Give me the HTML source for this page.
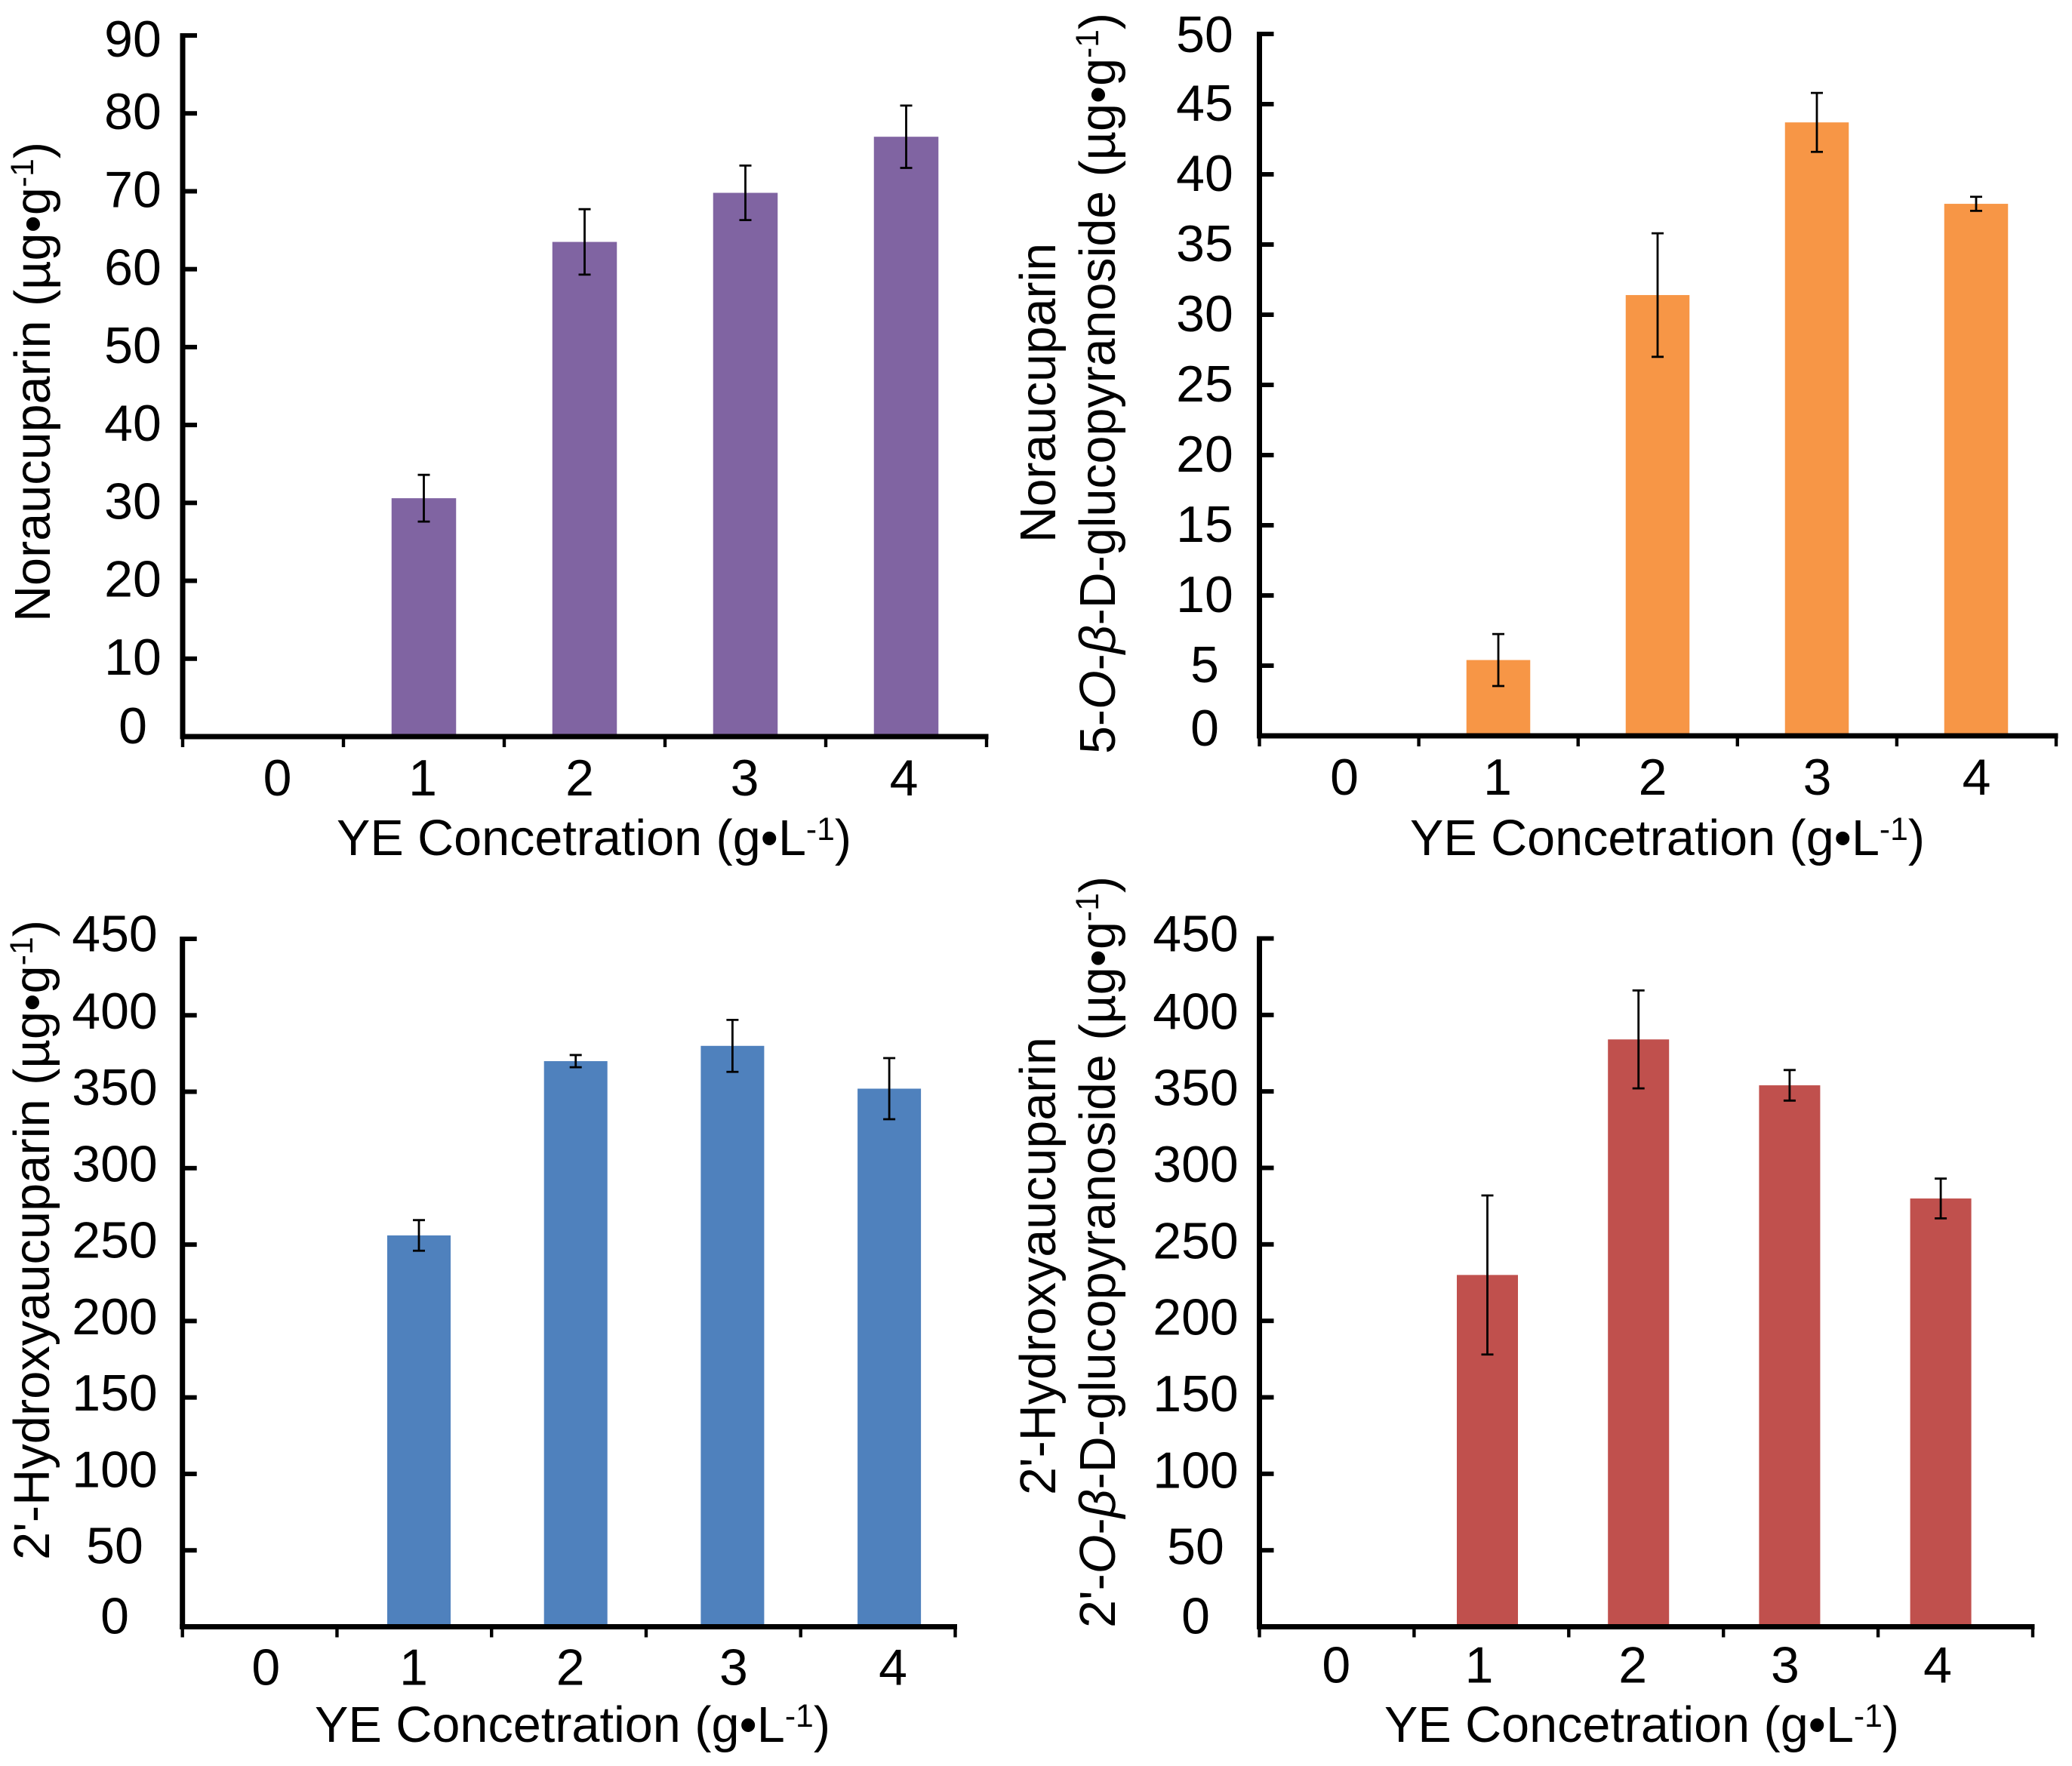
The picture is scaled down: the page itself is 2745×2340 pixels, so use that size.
<!DOCTYPE html>
<html lang="en">
<head>
<meta charset="utf-8">
<title>Coumarin content versus YE concentration</title>
<style>
html,body{margin:0;padding:0;background:#fff;width:2745px;height:2340px;overflow:hidden}
svg{display:block}
text{font-family:"Liberation Sans",Arial,sans-serif;fill:#000}
</style>
</head>
<body>
<svg id="figure" xmlns="http://www.w3.org/2000/svg" width="2745" height="2340" viewBox="0 0 2745 2340">
<rect width="2745" height="2340" fill="#fff"/>

<text x="446" y="1133" font-size="67" textLength="682" lengthAdjust="spacingAndGlyphs">YE Concetration (g•L<tspan font-size="43" dy="-20">-1</tspan><tspan dy="20">)</tspan></text>
<text x="1868" y="1133" font-size="67" textLength="682" lengthAdjust="spacingAndGlyphs">YE Concetration (g•L<tspan font-size="43" dy="-20">-1</tspan><tspan dy="20">)</tspan></text>
<text x="417" y="2308" font-size="67" textLength="683" lengthAdjust="spacingAndGlyphs">YE Concetration (g•L<tspan font-size="43" dy="-20">-1</tspan><tspan dy="20">)</tspan></text>
<text x="1834" y="2308" font-size="67" textLength="682" lengthAdjust="spacingAndGlyphs">YE Concetration (g•L<tspan font-size="43" dy="-20">-1</tspan><tspan dy="20">)</tspan></text>

<text transform="translate(66,824) rotate(-90)" font-size="67" textLength="636" lengthAdjust="spacingAndGlyphs">Noraucuparin (µg•g<tspan font-size="43" dy="-22">-1</tspan><tspan dy="22">)</tspan></text>

<text transform="translate(1398,719) rotate(-90)" font-size="67" textLength="397" lengthAdjust="spacingAndGlyphs">Noraucuparin</text>
<text transform="translate(1477,999) rotate(-90)" font-size="67" textLength="982" lengthAdjust="spacingAndGlyphs">5-<tspan font-style="italic">O</tspan>-<tspan font-style="italic">β</tspan>-D-glucopyranoside (µg•g<tspan font-size="43" dy="-22">-1</tspan><tspan dy="22">)</tspan></text>

<text transform="translate(65,2067) rotate(-90)" font-size="67" textLength="848" lengthAdjust="spacingAndGlyphs">2'-Hydroxyaucuparin (µg•g<tspan font-size="43" dy="-22">-1</tspan><tspan dy="22">)</tspan></text>

<text transform="translate(1398,1981) rotate(-90)" font-size="67" textLength="607" lengthAdjust="spacingAndGlyphs">2'-Hydroxyaucuparin</text>
<text transform="translate(1477,2157) rotate(-90)" font-size="67" textLength="996" lengthAdjust="spacingAndGlyphs">2'-<tspan font-style="italic">O</tspan>-<tspan font-style="italic">β</tspan>-D-glucopyranoside (µg•g<tspan font-size="43" dy="-22">-1</tspan><tspan dy="22">)</tspan></text>
</svg>

<script>
var categories = ['0', '1', '2', '3', '4'];

var panelAValues = [0, 30.6, 63.5, 69.8, 77];
var panelAErrors = [0, 3, 4.2, 3.5, 4];
var panelATicks = [0, 10, 20, 30, 40, 50, 60, 70, 80, 90];

var panelBValues = [0, 5.4, 31.4, 43.7, 37.9];
var panelBErrors = [0, 1.85, 4.4, 2.1, 0.5];
var panelBTicks = [0, 5, 10, 15, 20, 25, 30, 35, 40, 45, 50];

var panelCValues = [0, 256, 370, 380, 352];
var panelCErrors = [0, 10, 4, 17, 20];
var panelCTicks = [0, 50, 100, 150, 200, 250, 300, 350, 400, 450];

var panelDValues = [0, 230, 384, 354, 280];
var panelDErrors = [0, 52, 32, 10, 13];
var panelDTicks = [0, 50, 100, 150, 200, 250, 300, 350, 400, 450];

var svgNS = 'http://www.w3.org/2000/svg';
var figure = document.getElementById('figure');

function make(tag, attrs) {
  var node = document.createElementNS(svgNS, tag);
  for (var key in attrs) { node.setAttribute(key, attrs[key]); }
  figure.appendChild(node);
  return node;
}

function drawPanel(id, color, values, errors, ticks, g) {
  var maxTick = ticks[ticks.length - 1];
  function yScale(v) { return g.base - (v / maxTick) * (g.base - g.top); }
  function tickX(i) { return g.axisX + (i / categories.length) * (g.axisEnd - g.axisX); }
  function barCenter(i) { return g.bar1 + (i - 1) * g.barStep; }

  values.forEach(function (value, i) {
    if (value <= 0) { return; }
    var bar = make('rect', { x: barCenter(i) - g.barW / 2, y: yScale(value), width: g.barW, height: g.base - yScale(value), fill: color });
    
    
  });

  values.forEach(function (value, i) {
    if (errors[i] <= 0) { return; }
    var cx = barCenter(i);
    var hi = yScale(value + errors[i]);
    var lo = yScale(value - errors[i]);
    var err = make('path', { d: 'M' + cx + ' ' + hi + 'V' + lo + 'M' + (cx - 8) + ' ' + hi + 'H' + (cx + 8) + 'M' + (cx - 8) + ' ' + lo + 'H' + (cx + 8), stroke: '#000', 'stroke-width': 2.8, fill: 'none' });
    
    
  });

  var yAxis = make('rect', { x: g.axisX - 3.5, y: g.top - 3, width: 7, height: g.base - g.top + 6, fill: '#000' });
  
  

  var xAxis = make('rect', { x: g.axisX - 3.5, y: g.base - 3.5, width: g.axisEnd - g.axisX + 6, height: 7, fill: '#000' });
  
  

  ticks.forEach(function (tick, i) {
    var yTick = make('rect', { x: g.axisX, y: yScale(tick) - 3, width: 19, height: 6, fill: '#000' });
    
    

    var nudge = g.labelNudge;
    if (i === 0) { nudge = g.zeroNudge; }
    if (i === ticks.length - 1) { nudge = g.topNudge; }
    var yLabel = make('text', { x: g.labelCenter, y: yScale(tick) + nudge + 24, 'font-size': 68, 'text-anchor': 'middle' });
    yLabel.textContent = String(tick);
    
    
  });

  for (var t = 0; t <= categories.length; t++) {
    var xTick = make('rect', { x: tickX(t) - 2.2, y: g.base, width: 4.4, height: 14, fill: '#000' });
    
    
  }

  categories.forEach(function (label, i) {
    var xLabel = make('text', { x: barCenter(i) + g.xLabelOffsets[i], y: g.base + g.xLabelDrop, 'font-size': 68, 'text-anchor': 'middle' });
    xLabel.textContent = label;
    
    
  });
}

drawPanel('panel-a', '#8064A2', panelAValues, panelAErrors, panelATicks,
  { axisX: 242, axisEnd: 1307, top: 47, base: 976, bar1: 561.5, barStep: 213, barW: 85.5, labelCenter: 176, labelNudge: -3, topNudge: 4, zeroNudge: -15, xLabelDrop: 78, xLabelOffsets: [19, -1.5, -6.5, -1, -3] });
drawPanel('panel-b', '#F79646', panelBValues, panelBErrors, panelBTicks,
  { axisX: 1668.5, axisEnd: 2724, top: 45, base: 975, bar1: 1985, barStep: 211, barW: 84.5, labelCenter: 1596, labelNudge: -2, topNudge: 0, zeroNudge: -11, xLabelDrop: 78, xLabelOffsets: [7, -1, -6.5, 0.5, 0.5] });
drawPanel('panel-c', '#4F81BD', panelCValues, panelCErrors, panelCTicks,
  { axisX: 241.7, axisEnd: 1265.5, top: 1244, base: 2155.5, bar1: 555, barStep: 207.7, barW: 84, labelCenter: 152, labelNudge: -6.5, topNudge: -7.5, zeroNudge: -15, xLabelDrop: 77, xLabelOffsets: [5, -7, -7, 1.5, 5] });
drawPanel('panel-d', '#C0504D', panelDValues, panelDErrors, panelDTicks,
  { axisX: 1668.5, axisEnd: 2693, top: 1243.5, base: 2155.5, bar1: 1970.5, barStep: 200.2, barW: 81, labelCenter: 1584, labelNudge: -5.5, topNudge: -7, zeroNudge: -15, xLabelDrop: 74, xLabelOffsets: [0, -11, -7.5, -6, -4] });
</script>
</body>
</html>
